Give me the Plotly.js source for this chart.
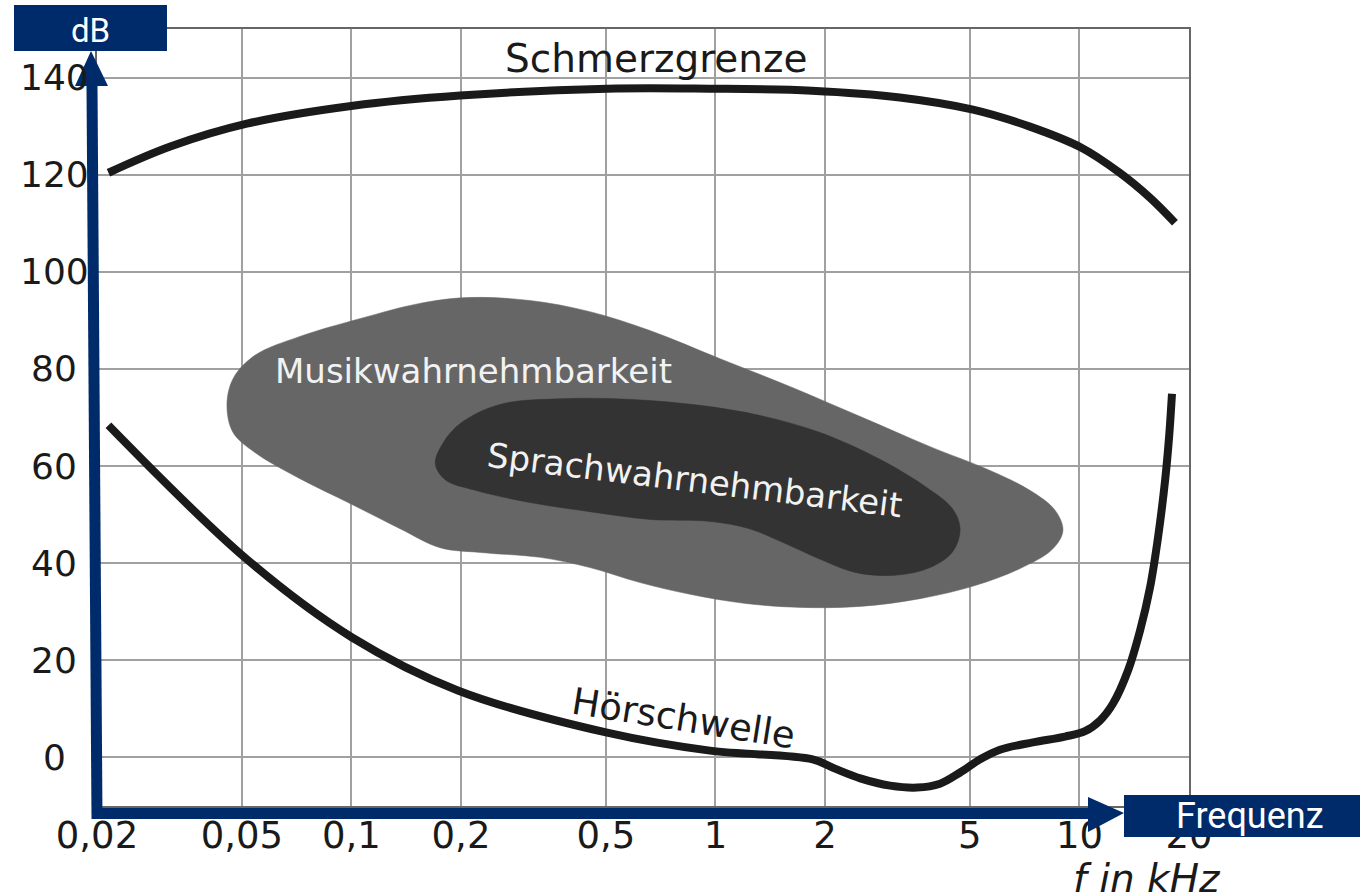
<!DOCTYPE html>
<html>
<head>
<meta charset="utf-8">
<script src="https://cdn.plot.ly/plotly-3.0.1.min.js"></script>
<style>html,body{margin:0;padding:0;background:#fff;}#chart{width:1360px;height:893px;}</style>
</head>
<body>
<div id="chart"></div>
<script>
// ---- data (frequency in kHz, level in dB) ----
const xTickVals = [0.02, 0.05, 0.1, 0.2, 0.5, 1, 2, 5, 10, 20];
const xTickLabels = ['0,02', '0,05', '0,1', '0,2', '0,5', '1', '2', '5', '10', '20'];
const yTickVals = [0, 20, 40, 60, 80, 100, 120, 140];
const yTickLabels = ['0', '20', '40', '60', '80', '100', '120', '140'];

// Schmerzgrenze (pain threshold)
const schmerzF = [0.0215, 0.0318, 0.0516, 0.101, 0.199, 0.504, 0.960, 1.84, 3.21, 5.10, 7.31, 10.1, 12.9, 15.6, 18.3];
const schmerzDb = [120.4, 125.8, 130.5, 134.2, 136.3, 137.7, 137.7, 137.3, 135.9, 133.4, 129.9, 125.6, 120.4, 115.3, 110.1];

// Hörschwelle (hearing threshold)
const hoerF = [0.0215, 0.0516, 0.1004, 0.196, 0.504, 0.966, 1.85, 2.13, 2.50, 3.02, 3.58, 4.14, 4.70, 5.33, 6.05, 7.45, 9.13, 10.36, 11.39, 12.37, 13.60, 14.67, 15.63, 16.44, 17.19, 17.63, 17.96];
const hoerDb = [68.4, 40.8, 24.7, 13.8, 5.1, 1.4, -0.4, -2.3, -4.3, -5.8, -6.2, -5.4, -3.1, -0.4, 1.6, 3.1, 4.3, 5.4, 7.6, 11.1, 17.9, 26.1, 35.0, 45.3, 57.0, 65.9, 74.9];

// Musikwahrnehmbarkeit (music area outline)
const musikF = [0.208, 0.309, 0.452, 0.661, 1.03, 1.60, 2.50, 3.89, 5.68, 7.31, 8.57, 9.01, 8.41, 6.87, 5.17, 3.65, 2.50, 1.71, 1.21, 0.851, 0.621, 0.452, 0.330, 0.226, 0.175, 0.136, 0.0991, 0.0722, 0.0543, 0.0473, 0.0455, 0.0473, 0.0543, 0.0722, 0.106, 0.154, 0.208];
const musikDb = [94.7, 94.1, 91.8, 87.9, 82.1, 76.4, 70.2, 64.0, 59.1, 55.0, 50.9, 46.7, 42.8, 38.9, 35.4, 32.7, 31.1, 30.9, 31.7, 33.6, 36.0, 39.1, 41.2, 42.2, 43.2, 47.1, 52.3, 57.4, 62.8, 66.9, 72.5, 78.0, 82.8, 86.7, 90.4, 93.5, 94.7];

// Sprachwahrnehmbarkeit (speech area outline)
const sprachF = [0.391, 0.594, 0.907, 1.33, 1.94, 2.83, 3.77, 4.47, 4.70, 4.49, 3.89, 3.11, 2.42, 1.94, 1.55, 1.24, 0.966, 0.661, 0.452, 0.309, 0.219, 0.181, 0.170, 0.179, 0.201, 0.256, 0.391];
const sprachDb = [73.9, 73.7, 72.5, 70.4, 66.9, 61.4, 55.8, 51.3, 47.1, 42.4, 39.1, 37.5, 38.1, 40.8, 44.1, 47.1, 48.6, 49.0, 50.6, 52.5, 55.0, 57.2, 60.5, 64.9, 69.0, 72.7, 73.9];

// ---- geometry helpers (pixel -> paper) ----
const W = 1360, H = 893;
const M = {l: 97, r: 171, t: 29, b: 87};
const PW = W - M.l - M.r, PH = H - M.t - M.b;
const px = p => (p - M.l) / PW;
const py = p => (H - M.b - p) / PH;

const NAVY = '#002b6b';
const INK = '#1a1a1a';
const FONT = 'DejaVu Sans';

const traces = [
  {x: musikF, y: musikDb, type: 'scatter', mode: 'lines', fill: 'toself', fillcolor: '#666666',
   line: {color: '#666666', width: 0.5, shape: 'spline', smoothing: 1}, hoverinfo: 'skip'},
  {x: sprachF, y: sprachDb, type: 'scatter', mode: 'lines', fill: 'toself', fillcolor: '#333333',
   line: {color: '#333333', width: 0.5, shape: 'spline', smoothing: 1}, hoverinfo: 'skip'},
  {x: schmerzF, y: schmerzDb, type: 'scatter', mode: 'lines',
   line: {color: INK, width: 8, shape: 'spline', smoothing: 1}},
  {x: hoerF, y: hoerDb, type: 'scatter', mode: 'lines',
   line: {color: INK, width: 8, shape: 'spline', smoothing: 1}}
];

const txt = (x, y, text, font, extra) => Object.assign({
  xref: 'paper', yref: 'paper', x: x, y: y, text: text, showarrow: false,
  xanchor: 'center', yanchor: 'middle', font: font}, extra || {});

const annotations = [];
yTickVals.forEach((v, i) => {
  annotations.push({xref: 'paper', yref: 'y', x: px(54), y: v, text: yTickLabels[i],
    showarrow: false, xanchor: 'center', yanchor: 'middle',
    font: {family: FONT, size: 36, color: INK}});
});
annotations.push(
  txt(px(656), py(58), 'Schmerzgrenze', {family: FONT, size: 39, color: INK}),
  txt(px(473), py(371), 'Musikwahrnehmbarkeit', {family: FONT, size: 34, color: '#f2f2f2'}),
  txt(px(695), py(480), 'Sprachwahrnehmbarkeit', {family: FONT, size: 34, color: '#f2f2f2'}, {textangle: 7}),
  txt(px(683), py(718), 'Hörschwelle', {family: FONT, size: 37, color: INK}, {textangle: 9}),
  txt(px(1147), py(878), '<i>f in kHz</i>', {family: FONT, size: 39, color: INK}),
  txt(px(90), py(30), 'dB', {family: 'Roboto', size: 33, color: '#ffffff'}),
  txt(px(1250), py(816), 'Frequenz', {family: 'Roboto', size: 36, color: '#ffffff'})
);

const tri = pts => 'M ' + pts.map(p => px(p[0]) + ',' + py(p[1])).join(' L ') + ' Z';

const shapes = [
  {type: 'rect', xref: 'paper', yref: 'paper', x0: px(14), x1: px(167), y0: py(51), y1: py(5),
   fillcolor: NAVY, line: {width: 0}, layer: 'above'},
  {type: 'rect', xref: 'paper', yref: 'paper', x0: px(1124), x1: px(1365), y0: py(837), y1: py(795),
   fillcolor: NAVY, line: {width: 0}, layer: 'above'},
  {type: 'line', xref: 'paper', yref: 'paper', x0: px(97), y0: py(819), x1: px(92), y1: py(86),
   line: {color: NAVY, width: 11}, layer: 'above'},
  {type: 'path', xref: 'paper', yref: 'paper', path: tri([[75, 86], [108, 86], [91, 51]]),
   fillcolor: NAVY, line: {width: 0}, layer: 'above'},
  {type: 'line', xref: 'paper', yref: 'paper', x0: px(92), y0: py(813.5), x1: px(1090), y1: py(813.5),
   line: {color: NAVY, width: 11}, layer: 'above'},
  {type: 'path', xref: 'paper', yref: 'paper', path: tri([[1088, 797], [1088, 832], [1124, 813]]),
   fillcolor: NAVY, line: {width: 0}, layer: 'above'}
];

const layout = {
  width: W, height: H,
  margin: M,
  paper_bgcolor: '#ffffff', plot_bgcolor: '#ffffff',
  showlegend: false,
  xaxis: {
    type: 'log', range: [Math.log10(0.02), Math.log10(20)],
    tickmode: 'array', tickvals: xTickVals, ticktext: xTickLabels,
    showgrid: true, gridcolor: '#a0a0a0', gridwidth: 2,
    showline: true, mirror: true, linecolor: '#666666', linewidth: 2,
    ticks: '', ticklabelstandoff: -4,
    tickfont: {family: FONT, size: 37, color: INK},
    zeroline: false, fixedrange: true
  },
  yaxis: {
    range: [-10, 150], tickmode: 'array', tickvals: yTickVals,
    showticklabels: false, ticks: '',
    showgrid: true, gridcolor: '#a0a0a0', gridwidth: 2,
    showline: true, mirror: true, linecolor: '#666666', linewidth: 2,
    zeroline: false, fixedrange: true
  },
  shapes: shapes,
  annotations: annotations
};

Plotly.newPlot('chart', traces, layout, {displayModeBar: false, staticPlot: true});
</script>
</body>
</html>
